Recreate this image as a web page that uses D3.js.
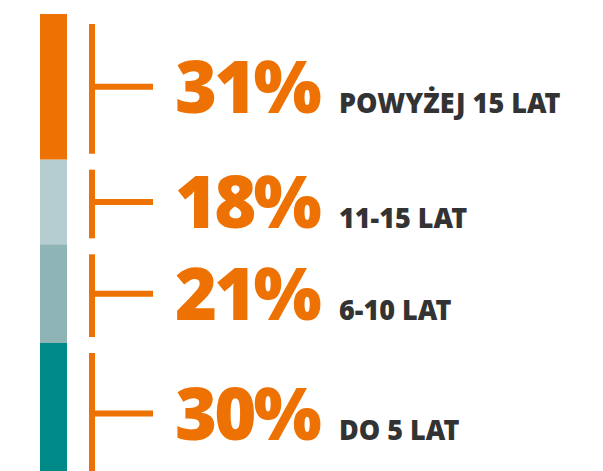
<!DOCTYPE html>
<html>
<head>
<meta charset="utf-8">
<script src="https://cdn.jsdelivr.net/npm/d3@7"></script>
<style>
  body { margin: 0; background: #fff; }
</style>
</head>
<body>
<div id="wrapper"></div>
<script>
const categories = ["POWYŻEJ 15 LAT", "11-15 LAT", "6-10 LAT", "DO 5 LAT"]
const values = [31, 18, 21, 30]
const colors = ["#ee7203", "#b5cdd1", "#8fb4b6", "#008a87"]

function drawChart() {
  const width = 603
  const height = 471
  const orange = "#ee7203"

  const svg = d3.select("#wrapper")
    .append("svg")
    .attr("width", width)
    .attr("height", height)

  // stack the shares top to bottom
  let acc = 0
  const rows = categories.map((c, i) => {
    const r = { label: c, value: values[i], color: colors[i], start: acc, end: acc + values[i] }
    acc += values[i]
    return r
  })

  const yScale = d3.scaleLinear()
    .domain([0, 100])
    .range([14, 484])

  svg.selectAll("rect.seg")
    .data(rows)
    .enter().append("rect")
    .attr("class", "seg")
    .attr("x", 40)
    .attr("width", 27)
    .attr("y", d => yScale(d.start))
    .attr("height", d => yScale(d.end) - yScale(d.start))
    .attr("fill", d => d.color)

  const mid = d => (yScale(d.start) + yScale(d.end)) / 2

  const brackets = svg.selectAll("g.bracket")
    .data(rows)
    .enter().append("g")
    .attr("class", "bracket")

  brackets.append("line")
    .attr("x1", 92).attr("x2", 92)
    .attr("y1", d => yScale(d.start) + 10)
    .attr("y2", d => yScale(d.end) - 6)
    .attr("stroke", orange)
    .attr("stroke-width", 6)

  brackets.append("line")
    .attr("x1", 92).attr("x2", 153)
    .attr("y1", mid).attr("y2", mid)
    .attr("stroke", orange)
    .attr("stroke-width", 6)

  brackets.append("text")
    .attr("x", 175)
    .attr("y", d => mid(d) + 26)
    .attr("fill", orange)
    .style("font-family", "'Noto Sans', sans-serif")
    .style("font-weight", 900)
    .style("font-size", "72px")
    .style("letter-spacing", "-3px")
    .text(d => d.value + "%")

  // labels squeezed a little, the original face is narrower
  brackets.append("text")
    .attr("transform", d => `translate(339, ${mid(d) + 26}) scale(0.93, 1)`)
    .attr("fill", "#333333")
    .style("font-family", "'Noto Sans', sans-serif")
    .style("font-weight", 900)
    .style("font-size", "29px")
    .text(d => d.label)
}

drawChart()
</script>
</body>
</html>
